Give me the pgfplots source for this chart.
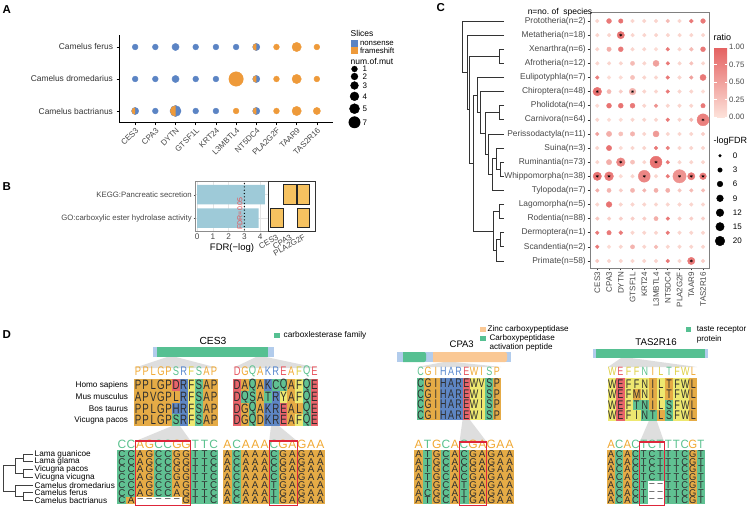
\documentclass[border=0pt]{standalone}
\usepackage{fontspec}
\setmainfont{Liberation Sans}
\setsansfont{Liberation Sans}
\usepackage{graphicx}
\usepackage{pgfplots}
\usepackage{pgfplotstable}
\pgfplotsset{compat=1.18}
\pgfplotsset{/pgf/number format/assume math mode=true}

\definecolor{nblue}{RGB}{91,132,196}
\definecolor{forange}{RGB}{238,154,58}
\definecolor{bbar}{RGB}{158,202,216}
\definecolor{tgold}{RGB}{246,194,96}
\definecolor{co}{RGB}{229,171,70}
\definecolor{cg}{RGB}{96,193,146}
\definecolor{cb}{RGB}{94,134,196}
\definecolor{cr}{RGB}{232,100,106}
\definecolor{cy}{RGB}{238,232,112}
\definecolor{lo}{RGB}{240,168,50}
\definecolor{lg}{RGB}{90,193,142}
\definecolor{lb}{RGB}{88,136,206}
\definecolor{lr}{RGB}{232,86,96}
\definecolor{ly}{RGB}{222,206,64}
\definecolor{domg}{RGB}{86,192,146}
\definecolor{doml}{RGB}{178,204,236}
\definecolor{domo}{RGB}{250,200,148}
\definecolor{redbox}{RGB}{222,38,58}
\definecolor{fdrred}{RGB}{232,72,76}

\newcommand\fz[1]{\fontsize{#1}{#1}\selectfont}
\newdimen\cellw \newdimen\cellh
\pgfdeclareplotmark{cell}{\pgfpathrectangle{\pgfqpoint{-0.5\cellw}{-0.5\cellh}}{\pgfqpoint{\cellw}{\cellh}}\pgfusepathqfill}
\pgfdeclareplotmark{tile}{\pgfpathrectangle{\pgfqpoint{-6.3pt}{-9.8pt}}{\pgfqpoint{12.6pt}{19.6pt}}\pgfusepathqfillstroke}
\pgfdeclareplotmark{lefthalf}{\pgfpathmoveto{\pgfqpoint{0pt}{\pgfplotmarksize}}\pgfpatharc{90}{270}{\pgfplotmarksize}\pgfpathclose\pgfusepathqfill}
\pgfdeclareplotmark{nothing}{}

\tikzset{t/.style={inner sep=0pt, anchor=west}}
\pgfplotsset{
 canvas/.style={at={(0pt,0pt)}, anchor=north west, x=1pt, y=1pt, y dir=reverse,
   xmin=0, xmax=753, ymin=0, ymax=510, hide axis, clip=false},
 block/.style n args={4}{at={(#1pt,-#2pt)}, anchor=north west, x=#3pt, y=#4pt, y dir=reverse,
   xmin=-0.5, ymin=-0.5, hide axis, clip=false},
 rc/.style={fill=#1, draw=none},
 cl/.style={only marks, mark=cell, #1},
 letters/.style 2 args={only marks, mark=nothing, point meta=explicit symbolic,
   nodes near coords={\scalebox{#2}[1]{\pgfplotspointmeta}},
   every node near coord/.append style={anchor=center, inner sep=0pt, text=black!82, font=#1}},
 logo/.style n args={3}{only marks, mark=nothing, point meta=explicit symbolic,
   nodes near coords={\scalebox{#2}[1]{\pgfplotspointmeta}},
   every node near coord/.append style={anchor=center, inner sep=0pt, text=#3, font=#1}},
 csc/.style={scatter, only marks, mark=*, point meta=explicit,
   scatter/use mapped color={draw=mapped color, fill=mapped color}},
}

% ---------- Panel D alignments (x column, y row, l letter) ----------
\pgfplotstableread[row sep=\\]{
x y l\\
0 0 P\\ 1 0 P\\ 2 0 L\\ 3 0 G\\ 4 0 P\\ 5 0 D\\ 6 0 R\\ 7 0 F\\ 8 0 S\\ 9 0 A\\ 10 0 P\\
0 1 A\\ 1 1 P\\ 2 1 V\\ 3 1 G\\ 4 1 P\\ 5 1 L\\ 6 1 R\\ 7 1 F\\ 8 1 S\\ 9 1 A\\ 10 1 P\\
0 2 P\\ 1 2 P\\ 2 2 L\\ 3 2 G\\ 4 2 P\\ 5 2 H\\ 6 2 R\\ 7 2 F\\ 8 2 S\\ 9 2 A\\ 10 2 P\\
0 3 P\\ 1 3 P\\ 2 3 L\\ 3 3 G\\ 4 3 P\\ 5 3 S\\ 6 3 R\\ 7 3 F\\ 8 3 S\\ 9 3 A\\ 10 3 P\\
}\tPa
\pgfplotstableread[row sep=\\]{
x y l\\
0 0 D\\ 1 0 A\\ 2 0 Q\\ 3 0 A\\ 4 0 K\\ 5 0 C\\ 6 0 Q\\ 7 0 A\\ 8 0 F\\ 9 0 Q\\ 10 0 E\\
0 1 D\\ 1 1 Q\\ 2 1 S\\ 3 1 A\\ 4 1 T\\ 5 1 R\\ 6 1 Y\\ 7 1 A\\ 8 1 F\\ 9 1 Q\\ 10 1 E\\
0 2 D\\ 1 2 G\\ 2 2 Q\\ 3 2 A\\ 4 2 K\\ 5 2 R\\ 6 2 E\\ 7 2 A\\ 8 2 L\\ 9 2 Q\\ 10 2 E\\
0 3 D\\ 1 3 G\\ 2 3 Q\\ 3 3 D\\ 4 3 K\\ 5 3 R\\ 6 3 E\\ 7 3 A\\ 8 3 F\\ 9 3 Q\\ 10 3 E\\
}\tPb
\pgfplotstableread[row sep=\\]{
x y l\\
0 0 C\\ 1 0 C\\ 2 0 A\\ 3 0 G\\ 4 0 C\\ 5 0 C\\ 6 0 G\\ 7 0 G\\ 8 0 T\\ 9 0 T\\ 10 0 C\\
0 1 C\\ 1 1 C\\ 2 1 A\\ 3 1 G\\ 4 1 C\\ 5 1 C\\ 6 1 G\\ 7 1 G\\ 8 1 T\\ 9 1 T\\ 10 1 C\\
0 2 C\\ 1 2 C\\ 2 2 A\\ 3 2 G\\ 4 2 C\\ 5 2 C\\ 6 2 G\\ 7 2 G\\ 8 2 T\\ 9 2 T\\ 10 2 C\\
0 3 C\\ 1 3 C\\ 2 3 A\\ 3 3 G\\ 4 3 C\\ 5 3 C\\ 6 3 G\\ 7 3 G\\ 8 3 T\\ 9 3 T\\ 10 3 C\\
0 4 C\\ 1 4 C\\ 2 4 A\\ 3 4 G\\ 4 4 C\\ 5 4 C\\ 6 4 A\\ 7 4 G\\ 8 4 T\\ 9 4 T\\ 10 4 C\\
0 5 C\\ 1 5 C\\ 2 5 A\\ 3 5 G\\ 4 5 C\\ 5 5 C\\ 6 5 A\\ 7 5 G\\ 8 5 T\\ 9 5 T\\ 10 5 C\\
0 6 C\\ 1 6 A\\ 2 6 --\\ 3 6 --\\ 4 6 --\\ 5 6 --\\ 6 6 --\\ 7 6 G\\ 8 6 T\\ 9 6 T\\ 10 6 C\\
}\tDa
\pgfplotstableread[row sep=\\]{
x y l\\
0 0 A\\ 1 0 C\\ 2 0 A\\ 3 0 A\\ 4 0 A\\ 5 0 C\\ 6 0 G\\ 7 0 A\\ 8 0 G\\ 9 0 A\\ 10 0 A\\
0 1 A\\ 1 1 C\\ 2 1 A\\ 3 1 A\\ 4 1 A\\ 5 1 C\\ 6 1 G\\ 7 1 A\\ 8 1 G\\ 9 1 A\\ 10 1 A\\
0 2 A\\ 1 2 C\\ 2 2 A\\ 3 2 A\\ 4 2 A\\ 5 2 C\\ 6 2 G\\ 7 2 A\\ 8 2 G\\ 9 2 A\\ 10 2 A\\
0 3 A\\ 1 3 C\\ 2 3 A\\ 3 3 A\\ 4 3 A\\ 5 3 C\\ 6 3 G\\ 7 3 A\\ 8 3 G\\ 9 3 A\\ 10 3 A\\
0 4 A\\ 1 4 C\\ 2 4 A\\ 3 4 A\\ 4 4 A\\ 5 4 T\\ 6 4 G\\ 7 4 A\\ 8 4 G\\ 9 4 A\\ 10 4 A\\
0 5 A\\ 1 5 C\\ 2 5 A\\ 3 5 A\\ 4 5 A\\ 5 5 T\\ 6 5 G\\ 7 5 A\\ 8 5 G\\ 9 5 A\\ 10 5 A\\
0 6 A\\ 1 6 C\\ 2 6 A\\ 3 6 A\\ 4 6 A\\ 5 6 T\\ 6 6 G\\ 7 6 A\\ 8 6 G\\ 9 6 A\\ 10 6 A\\
}\tDb
\pgfplotstableread[row sep=\\]{
x y l\\
0 0 C\\ 1 0 G\\ 2 0 I\\ 3 0 H\\ 4 0 A\\ 5 0 R\\ 6 0 E\\ 7 0 W\\ 8 0 V\\ 9 0 S\\ 10 0 P\\
0 1 C\\ 1 1 G\\ 2 1 I\\ 3 1 H\\ 4 1 A\\ 5 1 R\\ 6 1 E\\ 7 1 W\\ 8 1 I\\ 9 1 S\\ 10 1 P\\
0 2 C\\ 1 2 G\\ 2 2 I\\ 3 2 H\\ 4 2 A\\ 5 2 R\\ 6 2 E\\ 7 2 W\\ 8 2 I\\ 9 2 S\\ 10 2 P\\
0 3 C\\ 1 3 G\\ 2 3 I\\ 3 3 H\\ 4 3 A\\ 5 3 R\\ 6 3 E\\ 7 3 W\\ 8 3 I\\ 9 3 S\\ 10 3 P\\
}\tPc
\pgfplotstableread[row sep=\\]{
x y l\\
0 0 A\\ 1 0 T\\ 2 0 G\\ 3 0 C\\ 4 0 A\\ 5 0 C\\ 6 0 G\\ 7 0 A\\ 8 0 G\\ 9 0 A\\ 10 0 A\\
0 1 A\\ 1 1 T\\ 2 1 G\\ 3 1 C\\ 4 1 A\\ 5 1 C\\ 6 1 G\\ 7 1 A\\ 8 1 G\\ 9 1 A\\ 10 1 A\\
0 2 A\\ 1 2 T\\ 2 2 G\\ 3 2 C\\ 4 2 A\\ 5 2 C\\ 6 2 G\\ 7 2 A\\ 8 2 G\\ 9 2 A\\ 10 2 A\\
0 3 A\\ 1 3 T\\ 2 3 G\\ 3 3 C\\ 4 3 A\\ 5 3 C\\ 6 3 G\\ 7 3 A\\ 8 3 G\\ 9 3 A\\ 10 3 A\\
0 4 A\\ 1 4 T\\ 2 4 G\\ 3 4 C\\ 4 4 A\\ 5 4 T\\ 6 4 G\\ 7 4 A\\ 8 4 G\\ 9 4 A\\ 10 4 A\\
0 5 A\\ 1 5 C\\ 2 5 G\\ 3 5 C\\ 4 5 A\\ 5 5 T\\ 6 5 G\\ 7 5 A\\ 8 5 G\\ 9 5 A\\ 10 5 A\\
0 6 A\\ 1 6 T\\ 2 6 G\\ 3 6 C\\ 4 6 A\\ 5 6 T\\ 6 6 G\\ 7 6 A\\ 8 6 G\\ 9 6 A\\ 10 6 A\\
}\tDc
\pgfplotstableread[row sep=\\]{
x y l\\
0 0 W\\ 1 0 E\\ 2 0 F\\ 3 0 F\\ 4 0 N\\ 5 0 I\\ 6 0 L\\ 7 0 T\\ 8 0 F\\ 9 0 W\\ 10 0 L\\
0 1 W\\ 1 1 E\\ 2 1 F\\ 3 1 M\\ 4 1 N\\ 5 1 I\\ 6 1 L\\ 7 1 T\\ 8 1 F\\ 9 1 W\\ 10 1 L\\
0 2 W\\ 1 2 E\\ 2 2 F\\ 3 2 T\\ 4 2 N\\ 5 2 I\\ 6 2 L\\ 7 2 S\\ 8 2 F\\ 9 2 W\\ 10 2 L\\
0 3 W\\ 1 3 E\\ 2 3 F\\ 3 3 I\\ 4 3 N\\ 5 3 T\\ 6 3 L\\ 7 3 S\\ 8 3 F\\ 9 3 W\\ 10 3 L\\
}\tPd
\pgfplotstableread[row sep=\\]{
x y l\\
0 0 A\\ 1 0 C\\ 2 0 A\\ 3 0 C\\ 4 0 T\\ 5 0 C\\ 6 0 T\\ 7 0 T\\ 8 0 T\\ 9 0 C\\ 10 0 G\\ 11 0 T\\
0 1 A\\ 1 1 C\\ 2 1 A\\ 3 1 C\\ 4 1 T\\ 5 1 C\\ 6 1 T\\ 7 1 T\\ 8 1 T\\ 9 1 C\\ 10 1 G\\ 11 1 T\\
0 2 A\\ 1 2 C\\ 2 2 A\\ 3 2 C\\ 4 2 T\\ 5 2 C\\ 6 2 T\\ 7 2 T\\ 8 2 T\\ 9 2 C\\ 10 2 G\\ 11 2 T\\
0 3 A\\ 1 3 C\\ 2 3 A\\ 3 3 C\\ 4 3 T\\ 5 3 C\\ 6 3 T\\ 7 3 T\\ 8 3 T\\ 9 3 C\\ 10 3 G\\ 11 3 T\\
0 4 A\\ 1 4 C\\ 2 4 A\\ 3 4 C\\ 4 4 T\\ 5 4 --\\ 6 4 --\\ 7 4 T\\ 8 4 T\\ 9 4 C\\ 10 4 G\\ 11 4 T\\
0 5 A\\ 1 5 C\\ 2 5 A\\ 3 5 C\\ 4 5 T\\ 5 5 --\\ 6 5 --\\ 7 5 T\\ 8 5 T\\ 9 5 C\\ 10 5 G\\ 11 5 T\\
0 6 A\\ 1 6 C\\ 2 6 A\\ 3 6 C\\ 4 6 T\\ 5 6 --\\ 6 6 --\\ 7 6 T\\ 8 6 T\\ 9 6 C\\ 10 6 G\\ 11 6 T\\
}\tDd

\begin{document}
\begin{tikzpicture}
\path[use as bounding box] (0pt,0pt) rectangle (753pt,-510pt);

% ---------- background shapes of panel D ----------
\begin{axis}[canvas]
\addplot[fill=black!13, draw=none] coordinates {(167,357) (176,357) (218,368) (134,368)};
\addplot[fill=black!13, draw=none] coordinates {(256,357) (266,357) (318,368) (233,368)};
\addplot[fill=black!13, draw=none] coordinates {(172,426) (180,426) (190.7,441) (135.7,441)};
\addplot[fill=black!13, draw=none] coordinates {(271,426) (279,426) (297.1,441) (269.2,441)};
\addplot[fill=black!13, draw=none] coordinates {(444,362) (454,362) (501,367) (417,367)};
\addplot[fill=black!13, draw=none] coordinates {(462.5,420) (470,420) (486.8,442) (459.5,442)};
\addplot[fill=black!13, draw=none] coordinates {(621,358) (631,358) (697,367) (608,367)};
\addplot[fill=black!13, draw=none] coordinates {(648.8,421) (656.8,421) (664.2,442) (639.7,442)};
\addplot[fill=doml, draw=none] coordinates {(153,347) (274,347) (274,357) (153,357)};
\addplot[fill=domg, draw=none] coordinates {(157,347) (268,347) (268,357) (157,357)};
\addplot[fill=doml, draw=none] coordinates {(397,352) (511,352) (511,362) (397,362)};
\addplot[fill=domg, draw=none, rounded corners=2pt] coordinates {(403,352) (426,352) (426,362) (403,362)};
\addplot[fill=domo, draw=none, rounded corners=2pt] coordinates {(433,352) (507,352) (507,362) (433,362)};
\addplot[fill=doml, draw=none] coordinates {(593,349) (708,349) (708,358) (593,358)};
\addplot[fill=domg, draw=none] coordinates {(596,349) (705,349) (705,358) (596,358)};
\end{axis}

% ---------- Panel A ----------
\begin{axis}[at={(119pt,-35pt)}, anchor=north west, width=214pt, height=88pt, scale only axis,
  xmin=-0.8, xmax=9.8, ymin=-0.375, ymax=2.375,
  axis x line*=bottom, axis y line*=left, axis line style={-, line width=1pt, black},
  xtick={0,...,9}, xticklabels={CES3,CPA3,DYTN,GTSF1L,KRT24,L3MBTL4,NT5DC4,PLA2G2F,TAAR9,TAS2R16},
  ytick={0,1,2}, yticklabels={Camelus bactrianus,Camelus dromedarius,Camelus ferus},
  xticklabel style={rotate=45, anchor=north east, font=\fz{8}, text=black!72, inner sep=1pt},
  yticklabel style={font=\fz{8.4}, text=black!80},
  tick align=outside, major tick length=2.5pt, tick style={black, line width=0.6pt},
  clip=false]
\addplot[only marks, mark=*, nblue, mark size=2.9pt, mark options={draw=none}] coordinates {(0,2) (1,2) (3,2) (4,2) (5,2) (0,1) (1,1) (3,1) (4,1) (1,0) (3,0) (4,0)};
\addplot[only marks, mark=*, nblue, mark size=3.58pt, mark options={draw=none}] coordinates {(2,2) (6,2) (2,1) (6,1) (0,0) (6,0)};
\addplot[only marks, mark=*, nblue, mark size=5.55pt, mark options={draw=none}] coordinates {(2,0)};
\addplot[only marks, mark=*, forange, mark size=2.9pt, mark options={draw=none}] coordinates {(7,2) (9,2) (7,1) (9,1) (5,0) (7,0)};
\addplot[only marks, mark=*, forange, mark size=3.58pt, mark options={draw=none}] coordinates {(9,0)};
\addplot[only marks, mark=*, forange, mark size=4.65pt, mark options={draw=none}] coordinates {(8,2) (8,1) (8,0)};
\addplot[only marks, mark=*, forange, mark size=7.24pt, mark options={draw=none}] coordinates {(5,1)};
\addplot[only marks, mark=lefthalf, forange, mark size=3.58pt] coordinates {(6,2) (6,1) (0,0) (6,0)};
\addplot[only marks, mark=lefthalf, forange, mark size=5.55pt] coordinates {(2,0)};
\end{axis}

% ---------- Panel B: bars ----------
\begin{axis}[at={(195pt,-181.7pt)}, anchor=north west, width=73pt, height=49.3pt, scale only axis,
  xmin=-0.13, xmax=4.5, ymin=-0.55, ymax=1.55,
  xtick={0,1,2,3,4}, ytick={0,1},
  yticklabels={GO:carboxylic ester hydrolase activity,KEGG:Pancreatic secretion},
  yticklabel style={font=\fz{7.8}, text=black!72, inner sep=1.5pt},
  xticklabel style={font=\fz{8.2}, text=black!72, inner sep=1.5pt},
  tick pos=left, tick align=outside, major tick length=1.5pt, tick style={black!70},
  grid=major, grid style={black!10, line width=0.6pt},
  axis line style={black!45, line width=0.8pt}, clip=false]
\addplot[xbar, bar width=0.83, fill=bbar, draw=none] coordinates {(3.9,0) (4.3,1)};
\addplot[black, line width=1.3pt, dash pattern=on 0pt off 3.3pt, line cap=round] coordinates {(3,-0.5) (3,1.5)};
\node[rotate=90, font=\fz{7}, text=fdrred, inner sep=0pt] at (axis cs:2.72,0.2) {FDR=0.05};
\end{axis}

% ---------- Panel B: tiles ----------
\begin{axis}[at={(268pt,-181.7pt)}, anchor=north west, width=47pt, height=49.3pt, scale only axis,
  xmin=-0.65, xmax=2.86, ymin=-0.55, ymax=1.55,
  xtick={0,1,2}, xticklabels={CES3,CPA3,PLA2G2F}, ytick=\empty,
  xticklabel style={rotate=30, anchor=north east, font=\fz{8}, text=black!72, inner sep=1pt},
  tick pos=left, tick align=outside, major tick length=1.5pt, tick style={black!70},
  axis line style={black!80, line width=0.8pt}]
\addplot[only marks, mark=tile, mark options={fill=tgold, draw=black!85, line width=1pt}]
  coordinates {(1,1) (2,1) (0,0) (2,0)};
\end{axis}

% ---------- Panel C ----------
\begin{axis}[at={(590pt,-12.7pt)}, anchor=north west, width=119pt, height=255.3pt, scale only axis,
  xmin=-0.62, xmax=9.51, ymin=-0.59, ymax=17.5, y dir=reverse,
  xtick={0,...,9}, xticklabels={CES3,CPA3,DYTN,GTSF1L,KRT24,L3MBTL4,NT5DC4,PLA2G2F,TAAR9,TAS2R16},
  ytick={0,...,17},
  yticklabels={{Prototheria(n=2)},{Metatheria(n=18)},{Xenarthra(n=6)},{Afrotheria(n=12)},{Eulipotyphla(n=7)},{Chiroptera(n=48)},{Pholidota(n=4)},{Carnivora(n=64)},{Perissodactyla(n=11)},{Suina(n=3)},{Ruminantia(n=73)},{Whippomorpha(n=38)},{Tylopoda(n=7)},{Lagomorpha(n=5)},{Rodentia(n=88)},{Dermoptera(n=1)},{Scandentia(n=2)},{Primate(n=58)}},
  xticklabel style={rotate=90, anchor=east, font=\fz{8}, text=black!72, inner sep=1.5pt},
  yticklabel style={font=\fz{8.4}, text=black!72, inner sep=1.5pt},
  tick pos=left, tick align=outside, major tick length=2.5pt, tick style={black!80, line width=0.6pt},
  axis line style={black!50, line width=0.8pt},
  colormap={pinkred}{rgb255=(253,226,218) rgb255=(228,96,96)},
  point meta min=0, point meta max=1,
  colorbar,
  colorbar style={at={(1.042,0.8656)}, anchor=north west, width=13pt, height=70pt, scale only axis,
    y dir=normal, xmin=0, xmax=1, ymin=0, ymax=1, xtick=\empty,
    ytick={0,0.25,0.5,0.75,1}, yticklabels={0.00,0.25,0.50,0.75,1.00}, yticklabel pos=right,
    yticklabel style={font=\fz{7.8}, text=black!72, rotate=0, anchor=west, inner sep=2pt},
    axis line style={draw=none}, major tick length=2.5pt, tick style={white, line width=0.6pt}}]
\addplot[csc, mark size=1.84pt] coordinates {
(0,0)[0.1] (3,0)[0.1] (4,0)[0.1] (5,0)[0.1] (6,0)[0.3] (7,0)[0.1]
(0,1)[0.1] (1,1)[0.1] (3,1)[0.1] (4,1)[0.1] (5,1)[0.1] (6,1)[0.1] (7,1)[0.1] (8,1)[0.1] (9,1)[0.1]
(0,2)[0.1] (3,2)[0.1] (4,2)[0.1] (5,2)[0.05] (6,2)[0.8] (7,2)[0.1]
(0,3)[0.1] (1,3)[0.1] (2,3)[0.1] (4,3)[0.1] (6,3)[0.8] (7,3)[0.1] (8,3)[0.25] (9,3)[0.1]
(0,4)[0.75] (1,4)[0.05] (2,4)[0.05] (4,4)[0.1] (5,4)[0.1] (6,4)[0.8] (7,4)[0.1] (8,4)[0.5]
(2,5)[0.15] (4,5)[0.1] (5,5)[0.1] (6,5)[0.8] (7,5)[0.1] (8,5)[0.1] (9,5)[0.05]
(0,6)[0.05] (4,6)[0.1] (5,6)[0.6] (6,6)[0.1] (7,6)[0.1] (8,6)[0.1]
(0,7)[0.1] (1,7)[0.05] (2,7)[0.05] (3,7)[0.1] (4,7)[0.1] (5,7)[0.1] (6,7)[0.8] (7,7)[0.1] (8,7)[0.3]
(0,8)[0.5] (4,8)[0.1] (6,8)[0.1] (7,8)[0.1] (8,8)[0.1] (9,8)[0.15]
(0,9)[0.1] (2,9)[0.05] (3,9)[0.1] (4,9)[0.1] (5,9)[0.8] (6,9)[0.75] (7,9)[0.1] (8,9)[0.1] (9,9)[0.1]
(0,10)[0.1] (4,10)[0.1] (6,10)[0.8] (7,10)[0.1] (8,10)[0.1] (9,10)[0.1]
(2,11)[0.05] (3,11)[0.1] (5,11)[0.1] (6,11)[0.8]
(0,12)[0.4] (2,12)[0.15] (4,12)[0.35] (7,12)[0.2] (8,12)[0.3] (9,12)[0.3]
(0,13)[0.1] (2,13)[0.1] (3,13)[0.1] (4,13)[0.1] (5,13)[0.1] (6,13)[0.1] (7,13)[0.1] (8,13)[0.1] (9,13)[0.1]
(0,14)[0.2] (1,14)[0.15] (2,14)[0.15] (3,14)[0.15] (4,14)[0.15] (6,14)[0.8] (7,14)[0.15] (8,14)[0.15] (9,14)[0.15]
(0,15)[0.8] (3,15)[0.1] (4,15)[0.1] (5,15)[0.1] (6,15)[0.8] (7,15)[0.1] (8,15)[0.1] (9,15)[0.1]
(0,16)[0.8] (1,16)[0.05] (2,16)[0.1] (4,16)[0.1] (6,16)[0.1] (7,16)[0.1] (8,16)[0.1] (9,16)[0.1]
(0,17)[0.2] (1,17)[0.1] (2,17)[0.1] (3,17)[0.1] (4,17)[0.1] (5,17)[0.1] (6,17)[0.8] (7,17)[0.1] (9,17)[0.15]
};
\addplot[csc, mark size=1.98pt] coordinates {(8,0)[0.8] (8,2)[0.3] (2,15)[0.8] (5,16)[0.3]};
\addplot[csc, mark size=2.11pt] coordinates {(3,3)[0.3] (3,4)[0.25] (1,5)[0.3] (2,8)[0.25] (3,10)[0.25] (1,12)[0.35] (3,12)[0.35] (5,12)[0.4] (6,12)[0.4] (5,14)[0.4] (3,16)[0.35]};
\addplot[csc, mark size=2.23pt] coordinates {(2,0)[0.85] (1,2)[0.4] (9,6)[0.8] (3,8)[0.35] (1,15)[0.8]};
\addplot[csc, mark size=2.35pt] coordinates {(9,0)[0.8]};
\addplot[csc, mark size=2.46pt] coordinates {(1,0)[0.8] (2,2)[0.8] (9,2)[0.8] (1,6)[0.85] (2,6)[0.85] (3,6)[0.8]};
\addplot[csc, mark size=2.66pt] coordinates {(1,8)[0.4] (1,9)[0.85] (1,10)[0.4]};
\addplot[csc, mark size=2.86pt] coordinates {(1,13)[0.85]};
\addplot[csc, mark size=3.04pt] coordinates {(5,3)[0.5] (9,4)[0.8] (5,8)[0.55]};
\addplot[csc, mark size=3.37pt] coordinates {(3,5)[0.35] (9,11)[0.8]};
\addplot[csc, mark size=3.67pt] coordinates {(2,1)[0.85] (8,11)[0.8] (8,17)[0.8]};
\addplot[csc, mark size=4.21pt] coordinates {(0,11)[0.85]};
\addplot[csc, mark size=4.33pt] coordinates {(0,5)[0.85] (2,10)[0.7]};
\addplot[csc, mark size=4.45pt] coordinates {(1,11)[0.8]};
\addplot[csc, mark size=5.97pt] coordinates {(9,7)[0.75] (5,10)[0.85] (4,11)[0.7]};
\addplot[csc, mark size=6.65pt] coordinates {(7,11)[0.6]};
\addplot[only marks, mark=asterisk, mark size=1.5pt, black, line width=0.4pt]
  coordinates {(2,1) (0,5) (3,5) (9,7) (2,10) (5,10) (0,11) (1,11) (4,11) (7,11) (8,11) (9,11) (8,17)};
\end{axis}

% ---------- Panel D blocks ----------
% CES3 protein, block 1
\cellw=7.6pt \cellh=11.7pt
\begin{axis}[block={134.3}{379.3}{7.6}{11.7}, xmax=10.5, ymax=3.5]
\addplot[rc=co] coordinates {(-0.5,-0.5) (10.5,-0.5) (10.5,3.5) (-0.5,3.5)};
\addplot[rc=cb] coordinates {(5.5,-0.5) (6.5,-0.5) (6.5,3.5) (5.5,3.5)};
\addplot[rc=cy] coordinates {(6.5,-0.5) (7.5,-0.5) (7.5,3.5) (6.5,3.5)};
\addplot[rc=cg] coordinates {(7.5,-0.5) (8.5,-0.5) (8.5,3.5) (7.5,3.5)};
\addplot[cl=cr] coordinates {(5,0)};
\addplot[cl=cb] coordinates {(5,2)};
\addplot[cl=cg] coordinates {(5,3)};
\addplot[letters={\fz{13.5}}{0.72}] table[x=x,y=y,meta=l] {\tPa};
\addplot[logo={\fz{12.5}}{0.75}{lo}] coordinates {(0,-1.15)[P] (1,-1.15)[P] (2,-1.15)[L] (3,-1.15)[G] (4,-1.15)[P] (9,-1.15)[A] (10,-1.15)[P]};
\addplot[logo={\fz{12.5}}{0.75}{lg}] coordinates {(5,-1.15)[S] (8,-1.15)[S]};
\addplot[logo={\fz{12.5}}{0.75}{lb}] coordinates {(6,-1.15)[R]};
\addplot[logo={\fz{12.5}}{0.75}{ly}] coordinates {(7,-1.15)[F]};
\end{axis}
% CES3 protein, block 2
\cellw=7.73pt \cellh=11.7pt
\begin{axis}[block={233.3}{379.3}{7.73}{11.7}, xmax=10.5, ymax=3.5]
\addplot[rc=co] coordinates {(-0.5,-0.5) (10.5,-0.5) (10.5,3.5) (-0.5,3.5)};
\addplot[rc=cr] coordinates {(-0.5,-0.5) (0.5,-0.5) (0.5,3.5) (-0.5,3.5)};
\addplot[rc=cr] coordinates {(9.5,-0.5) (10.5,-0.5) (10.5,3.5) (9.5,3.5)};
\addplot[rc=cg] coordinates {(1.5,-0.5) (2.5,-0.5) (2.5,3.5) (1.5,3.5)};
\addplot[rc=cg] coordinates {(8.5,-0.5) (9.5,-0.5) (9.5,3.5) (8.5,3.5)};
\addplot[cl=cr] coordinates {(6,2) (6,3)};
\addplot[cl=cg] coordinates {(5,0) (6,0) (1,1) (4,1)};
\addplot[cl=cb] coordinates {(4,0) (5,1) (4,2) (5,2) (4,3) (5,3)};
\addplot[cl=cy] coordinates {(8,0) (6,1) (8,1) (8,3)};
\addplot[letters={\fz{13.5}}{0.72}] table[x=x,y=y,meta=l] {\tPb};
\addplot[logo={\fz{12.5}}{0.75}{lr}] coordinates {(0,-1.15)[D] (6,-1.15)[E] (10,-1.15)[E]};
\addplot[logo={\fz{12.5}}{0.75}{lo}] coordinates {(1,-1.15)[G] (3,-1.15)[A] (7,-1.15)[A]};
\addplot[logo={\fz{12.5}}{0.75}{lg}] coordinates {(2,-1.15)[Q] (9,-1.15)[Q]};
\addplot[logo={\fz{12.5}}{0.75}{lb}] coordinates {(4,-1.15)[K] (5,-1.15)[R]};
\addplot[logo={\fz{12.5}}{0.75}{ly}] coordinates {(8,-1.15)[F]};
\end{axis}
% CES3 DNA, block 1 (A/G orange, C/T green)
\cellw=9.18pt \cellh=7.75pt
\begin{axis}[block={117.3}{450.2}{9.18}{7.75}, xmax=10.5, ymax=6.5]
\addplot[rc=cg] coordinates {(-0.5,-0.5) (10.5,-0.5) (10.5,6.5) (-0.5,6.5)};
\addplot[rc=co] coordinates {(1.5,-0.5) (3.5,-0.5) (3.5,5.5) (1.5,5.5)};
\addplot[rc=co] coordinates {(5.5,-0.5) (7.5,-0.5) (7.5,6.5) (5.5,6.5)};
\addplot[rc=white] coordinates {(1.5,5.5) (6.5,5.5) (6.5,6.5) (1.5,6.5)};
\addplot[cl=co] coordinates {(1,6)};
\addplot[letters={\fz{9.8}}{1}] table[x=x,y=y,meta=l] {\tDa};
\addplot[logo={\fz{12}}{1}{lg}] coordinates {(0,-1.25)[C] (1,-1.25)[C] (4,-1.25)[C] (5,-1.25)[C] (8,-1.25)[T] (9,-1.25)[T] (10,-1.25)[C]};
\addplot[logo={\fz{12}}{1}{lo}] coordinates {(2,-1.25)[A] (3,-1.25)[G] (6,-1.25)[G] (7,-1.25)[G]};
\end{axis}
% CES3 DNA, block 2
\begin{axis}[block={222.7}{450.2}{9.3}{7.75}, xmax=10.5, ymax=6.5]
\addplot[rc=co] coordinates {(-0.5,-0.5) (10.5,-0.5) (10.5,6.5) (-0.5,6.5)};
\addplot[rc=cg] coordinates {(0.5,-0.5) (1.5,-0.5) (1.5,6.5) (0.5,6.5)};
\addplot[rc=cg] coordinates {(4.5,-0.5) (5.5,-0.5) (5.5,6.5) (4.5,6.5)};
\addplot[letters={\fz{9.8}}{1}] table[x=x,y=y,meta=l] {\tDb};
\addplot[logo={\fz{12}}{1}{lo}] coordinates {(0,-1.25)[A] (2,-1.25)[A] (3,-1.25)[A] (4,-1.25)[A] (6,-1.25)[G] (7,-1.25)[A] (8,-1.25)[G] (9,-1.25)[A] (10,-1.25)[A]};
\addplot[logo={\fz{12}}{1}{lg}] coordinates {(1,-1.25)[C] (5,-1.25)[C]};
\end{axis}
% CPA3 protein
\begin{axis}[block={416.7}{378.3}{7.64}{10.5}, xmax=10.5, ymax=3.5]
\addplot[rc=cg] coordinates {(-0.5,-0.5) (0.5,-0.5) (0.5,3.5) (-0.5,3.5)};
\addplot[rc=co] coordinates {(0.5,-0.5) (2.5,-0.5) (2.5,3.5) (0.5,3.5)};
\addplot[rc=cb] coordinates {(2.5,-0.5) (5.5,-0.5) (5.5,3.5) (2.5,3.5)};
\addplot[rc=cr] coordinates {(5.5,-0.5) (6.5,-0.5) (6.5,3.5) (5.5,3.5)};
\addplot[rc=cy] coordinates {(6.5,-0.5) (8.5,-0.5) (8.5,3.5) (6.5,3.5)};
\addplot[rc=cg] coordinates {(8.5,-0.5) (9.5,-0.5) (9.5,3.5) (8.5,3.5)};
\addplot[rc=co] coordinates {(9.5,-0.5) (10.5,-0.5) (10.5,3.5) (9.5,3.5)};
\addplot[letters={\fz{12.5}}{0.72}] table[x=x,y=y,meta=l] {\tPc};
\addplot[logo={\fz{12}}{0.75}{lg}] coordinates {(0,-1.15)[C] (9,-1.15)[S]};
\addplot[logo={\fz{12}}{0.75}{lo}] coordinates {(1,-1.15)[G] (2,-1.15)[I] (7,-1.15)[W] (8,-1.15)[I] (10,-1.15)[P]};
\addplot[logo={\fz{12}}{0.75}{lb}] coordinates {(3,-1.15)[H] (4,-1.15)[A] (5,-1.15)[R]};
\addplot[logo={\fz{12}}{0.75}{lr}] coordinates {(6,-1.15)[E]};
\end{axis}
% CPA3 DNA
\begin{axis}[block={414}{450.2}{9.1}{7.75}, xmax=10.5, ymax=6.5]
\addplot[rc=co] coordinates {(-0.5,-0.5) (10.5,-0.5) (10.5,6.5) (-0.5,6.5)};
\addplot[rc=cg] coordinates {(0.5,-0.5) (1.5,-0.5) (1.5,6.5) (0.5,6.5)};
\addplot[rc=cg] coordinates {(2.5,-0.5) (3.5,-0.5) (3.5,6.5) (2.5,6.5)};
\addplot[rc=cg] coordinates {(4.5,-0.5) (5.5,-0.5) (5.5,6.5) (4.5,6.5)};
\addplot[letters={\fz{9.8}}{1}] table[x=x,y=y,meta=l] {\tDc};
\addplot[logo={\fz{12}}{1}{lo}] coordinates {(0,-1.25)[A] (2,-1.25)[G] (4,-1.25)[A] (6,-1.25)[G] (7,-1.25)[A] (8,-1.25)[G] (9,-1.25)[A] (10,-1.25)[A]};
\addplot[logo={\fz{12}}{1}{lg}] coordinates {(1,-1.25)[T] (3,-1.25)[C] (5,-1.25)[C]};
\end{axis}
% TAS2R16 protein
\cellw=8.1pt \cellh=10.6pt
\begin{axis}[block={608.3}{378.5}{8.1}{10.6}, xmax=10.5, ymax=3.5]
\addplot[rc=cy] coordinates {(-0.5,-0.5) (10.5,-0.5) (10.5,3.5) (-0.5,3.5)};
\addplot[rc=cr] coordinates {(0.5,-0.5) (1.5,-0.5) (1.5,3.5) (0.5,3.5)};
\addplot[rc=co] coordinates {(9.5,-0.5) (10.5,-0.5) (10.5,3.5) (9.5,3.5)};
\addplot[cl=co] coordinates {(5,0) (7,0) (3,1) (5,1) (7,1) (5,2) (6,3)};
\addplot[cl=cg] coordinates {(3,2) (4,2) (7,2) (4,3) (5,3) (7,3)};
\addplot[letters={\fz{12.5}}{0.72}] table[x=x,y=y,meta=l] {\tPd};
\addplot[logo={\fz{12}}{0.75}{ly}] coordinates {(0,-1.15)[W] (2,-1.15)[F] (3,-1.15)[F] (6,-1.15)[L] (8,-1.15)[F] (9,-1.15)[W]};
\addplot[logo={\fz{12}}{0.75}{lr}] coordinates {(1,-1.15)[E]};
\addplot[logo={\fz{12}}{0.75}{lg}] coordinates {(4,-1.15)[N] (7,-1.15)[T]};
\addplot[logo={\fz{12}}{0.75}{lo}] coordinates {(5,-1.15)[I] (10,-1.15)[L]};
\end{axis}
% TAS2R16 DNA
\begin{axis}[block={607}{450.2}{8.17}{7.75}, xmax=11.5, ymax=6.5]
\addplot[rc=cg] coordinates {(-0.5,-0.5) (11.5,-0.5) (11.5,6.5) (-0.5,6.5)};
\addplot[rc=co] coordinates {(-0.5,-0.5) (0.5,-0.5) (0.5,6.5) (-0.5,6.5)};
\addplot[rc=co] coordinates {(1.5,-0.5) (2.5,-0.5) (2.5,6.5) (1.5,6.5)};
\addplot[rc=co] coordinates {(9.5,-0.5) (10.5,-0.5) (10.5,6.5) (9.5,6.5)};
\addplot[rc=white] coordinates {(4.5,3.5) (6.5,3.5) (6.5,6.5) (4.5,6.5)};
\addplot[letters={\fz{9.8}}{0.95}] table[x=x,y=y,meta=l] {\tDd};
\addplot[logo={\fz{12}}{0.95}{lo}] coordinates {(0,-1.25)[A] (2,-1.25)[A] (10,-1.25)[G]};
\addplot[logo={\fz{12}}{0.95}{lg}] coordinates {(1,-1.25)[C] (3,-1.25)[C] (4,-1.25)[T] (5,-1.25)[C] (6,-1.25)[T] (7,-1.25)[T] (8,-1.25)[T] (9,-1.25)[C] (11,-1.25)[T]};
\end{axis}

% ---------- foreground: labels, legends, trees, boxes ----------
\begin{axis}[canvas]
\node[t, font=\bfseries\fz{11.5}] at (2.5,10) {A};
\node[t, font=\bfseries\fz{11.5}] at (2.5,187) {B};
\node[t, font=\bfseries\fz{11.5}] at (436.5,8) {C};
\node[t, font=\bfseries\fz{11.5}] at (2.5,335) {D};
\node[t, font=\fz{8.5}] at (350.5,33) {Slices};
\addplot[only marks, mark=square*, mark size=3.2pt, nblue] coordinates {(354.2,43)};
\addplot[only marks, mark=square*, mark size=3.2pt, forange] coordinates {(354.2,50.4)};
\node[t, font=\fz{7.8}] at (359.8,43) {nonsense};
\node[t, font=\fz{7.8}] at (359.8,50.4) {frameshift};
\node[t, font=\fz{8.5}] at (350.5,61) {num.of.mut};
\addplot[only marks, mark=*, black, mark size=2.9pt] coordinates {(354.5,69)};
\addplot[only marks, mark=*, black, mark size=3.4pt] coordinates {(354.5,76.5)};
\addplot[only marks, mark=*, black, mark size=3.9pt] coordinates {(354.5,85.5)};
\addplot[only marks, mark=*, black, mark size=4.4pt] coordinates {(354.5,96.3)};
\addplot[only marks, mark=*, black, mark size=5pt] coordinates {(354.5,108.7)};
\addplot[only marks, mark=*, black, mark size=5.7pt] coordinates {(354.5,122.3)};
\node[t, font=\fz{8}] at (362.5,69) {1};
\node[t, font=\fz{8}] at (362.5,76.5) {2};
\node[t, font=\fz{8}] at (362.5,85.5) {3};
\node[t, font=\fz{8}] at (362.5,96.3) {4};
\node[t, font=\fz{8}] at (362.5,108.7) {5};
\node[t, font=\fz{8}] at (362.5,122.3) {7};
\node[inner sep=0pt, font=\fz{9.5}] at (232,248) {FDR(−log)};
\node[inner sep=0pt, font=\fz{8.5}] at (560,12.3) {n=no.\ of\ \ species};
\node[t, font=\fz{9}] at (713.3,37) {ratio};
\node[t, font=\fz{9}] at (713.3,141) {-logFDR};
\addplot[only marks, mark=*, black, mark size=1.34pt] coordinates {(720,155.7)};
\addplot[only marks, mark=*, black, mark size=2.24pt] coordinates {(720,170)};
\addplot[only marks, mark=*, black, mark size=2.85pt] coordinates {(720,184)};
\addplot[only marks, mark=*, black, mark size=3.35pt] coordinates {(720,198.3)};
\addplot[only marks, mark=*, black, mark size=3.8pt] coordinates {(720,212.7)};
\addplot[only marks, mark=*, black, mark size=4.2pt] coordinates {(720,226.7)};
\addplot[only marks, mark=*, black, mark size=4.8pt] coordinates {(720,241)};
\node[t, font=\fz{8}] at (732.7,155.7) {0};
\node[t, font=\fz{8}] at (732.7,170) {3};
\node[t, font=\fz{8}] at (732.7,184) {6};
\node[t, font=\fz{8}] at (732.7,198.3) {9};
\node[t, font=\fz{8}] at (732.7,212.7) {12};
\node[t, font=\fz{8}] at (732.7,226.7) {15};
\node[t, font=\fz{8}] at (732.7,241) {20};
\addplot[black!80, line width=0.9pt] coordinates {(504,21) (462.7,21) (462.7,72.4) (467,72.4)};
\addplot[black!80, line width=0.9pt] coordinates {(504,35.1) (467,35.1) (467,109.65) (469,109.65)};
\addplot[black!80, line width=0.9pt] coordinates {(499,56.3) (469,56.3) (469,163) (473,163)};
\addplot[black!80, line width=0.9pt] coordinates {(504,49.2) (499,49.2) (499,63.4) (504,63.4)};
\addplot[black!80, line width=0.9pt] coordinates {(477,95) (473,95) (473,231) (493,231)};
\addplot[black!80, line width=0.9pt] coordinates {(504,77.5) (477,77.5) (477,112.55) (480,112.55)};
\addplot[black!80, line width=0.9pt] coordinates {(504,91.6) (480,91.6) (480,133.5) (485,133.5)};
\addplot[black!80, line width=0.9pt] coordinates {(499,112.75) (485,112.75) (485,154.3) (488,154.3)};
\addplot[black!80, line width=0.9pt] coordinates {(504,105.7) (499,105.7) (499,119.8) (504,119.8)};
\addplot[black!80, line width=0.9pt] coordinates {(504,134) (488,134) (488,174.5) (492,174.5)};
\addplot[black!80, line width=0.9pt] coordinates {(496,158.7) (492,158.7) (492,190.4) (504,190.4)};
\addplot[black!80, line width=0.9pt] coordinates {(504,148.1) (496,148.1) (496,169.25) (500,169.25)};
\addplot[black!80, line width=0.9pt] coordinates {(504,162.2) (500,162.2) (500,176.3) (504,176.3)};
\addplot[black!80, line width=0.9pt] coordinates {(499,211.65) (493,211.65) (493,250.4) (496,250.4)};
\addplot[black!80, line width=0.9pt] coordinates {(504,204.6) (499,204.6) (499,218.7) (504,218.7)};
\addplot[black!80, line width=0.9pt] coordinates {(500,239.85) (496,239.85) (496,261) (504,261)};
\addplot[black!80, line width=0.9pt] coordinates {(504,232.8) (500,232.8) (500,246.9) (504,246.9)};
\node[inner sep=0pt, font=\fz{10.3}] at (213,341) {CES3};
\addplot[only marks, mark=square*, mark size=2.1pt, domg] coordinates {(276.7,335.5)};
\node[t, font=\fz{8.3}] at (283.5,335.5) {carboxlesterase family};
\node[inner sep=0pt, font=\fz{9.5}] at (461.7,344) {CPA3};
\addplot[only marks, mark=square*, mark size=2.1pt, domo] coordinates {(482.7,329.3)};
\addplot[only marks, mark=square*, mark size=2.1pt, domg] coordinates {(482.7,338.3)};
\node[t, font=\fz{8.1}] at (487.5,329.3) {Zinc carboxypeptidase};
\node[t, font=\fz{8.1}] at (489.3,338.3) {Carboxypeptidase};
\node[t, font=\fz{8.1}] at (489.3,347.5) {activation peptide};
\node[inner sep=0pt, font=\fz{9.7}] at (656,341.7) {TAS2R16};
\addplot[only marks, mark=square*, mark size=2.1pt, domg] coordinates {(688.3,329.3)};
\node[t, font=\fz{8.1}] at (696.7,329.3) {taste receptor};
\node[t, font=\fz{8.1}] at (696.7,339) {protein};
\node[inner sep=0pt, anchor=east, font=\fz{8.2}] at (128.3,385.2) {Homo sapiens};
\node[inner sep=0pt, anchor=east, font=\fz{8.2}] at (128.3,396.9) {Mus musculus};
\node[inner sep=0pt, anchor=east, font=\fz{8.2}] at (128.3,408.6) {Bos taurus};
\node[inner sep=0pt, anchor=east, font=\fz{8.2}] at (128.3,420.3) {Vicugna pacos};
\node[t, font=\fz{8.2}] at (34.5,454.1) {Lama guanicoe};
\node[t, font=\fz{8.2}] at (34.5,461.8) {Lama glama};
\node[t, font=\fz{8.2}] at (34.5,469.6) {Vicugna pacos};
\node[t, font=\fz{8.2}] at (34.5,477.3) {Vicugna vicugna};
\node[t, font=\fz{8.2}] at (34.5,485.1) {Camelus dromedarius};
\node[t, font=\fz{8.2}] at (34.5,492.8) {Camelus ferus};
\node[t, font=\fz{8.2}] at (34.5,500.6) {Camelus bactrianus};
\addplot[black!75, line width=0.8pt] coordinates {(33,454.1) (23,454.1) (23,461.8) (33,461.8)};
\addplot[black!75, line width=0.8pt] coordinates {(33,469.6) (23,469.6) (23,477.3) (33,477.3)};
\addplot[black!75, line width=0.8pt] coordinates {(23,458) (15,458) (15,473.4) (23,473.4)};
\addplot[black!75, line width=0.8pt] coordinates {(33,492.8) (23,492.8) (23,500.6) (33,500.6)};
\addplot[black!75, line width=0.8pt] coordinates {(33,485.1) (15,485.1) (15,496.7) (23,496.7)};
\addplot[black!75, line width=0.8pt] coordinates {(15,465.7) (3,465.7) (3,490.9) (15,490.9)};
\addplot[redbox, line width=1.1pt, line cap=rect] coordinates {(135.7,441) (190.7,441) (190.7,505.5) (135.7,505.5) (135.7,441)};
\addplot[redbox, line width=1.1pt, line cap=rect] coordinates {(269.2,441) (297.1,441) (297.1,505.5) (269.2,505.5) (269.2,441)};
\addplot[redbox, line width=1.1pt, line cap=rect] coordinates {(459.5,442) (486.8,442) (486.8,505.5) (459.5,505.5) (459.5,442)};
\addplot[redbox, line width=1.1pt, line cap=rect] coordinates {(639.7,442) (664.2,442) (664.2,505.5) (639.7,505.5) (639.7,442)};
\end{axis}
\end{tikzpicture}
\end{document}
